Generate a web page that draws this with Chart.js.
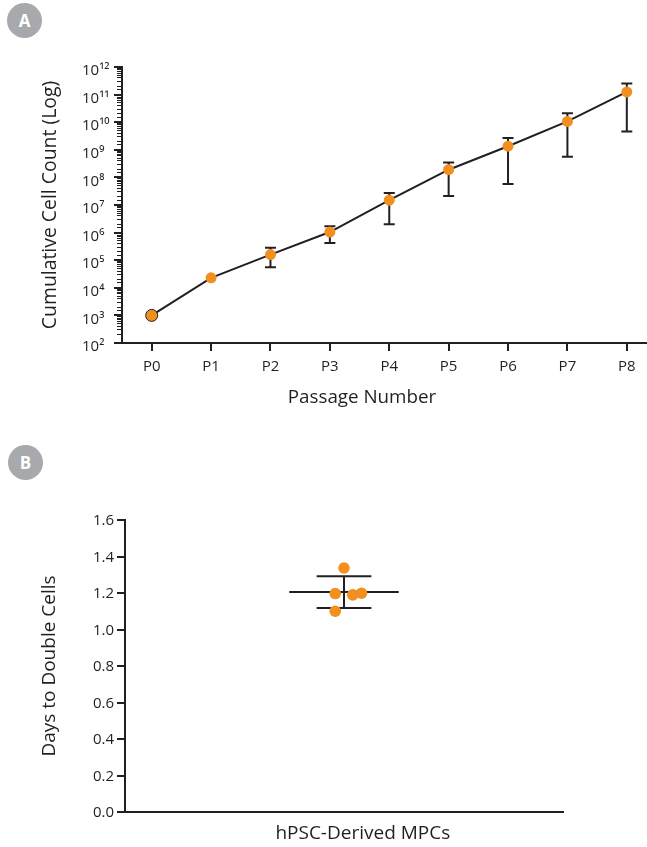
<!DOCTYPE html>
<html lang="en">
<head>
    <meta charset="UTF-8">
    <title>Cumulative cell count and doubling time</title>
    <script src="https://cdn.jsdelivr.net/npm/chart.js"></script>
    <style>
        html, body { margin: 0; padding: 0; background: #fff; overflow: hidden; width: 647px; height: 847px; }
        canvas { position: absolute; left: 0; }
        #chartA { top: 0; }
        #chartB { top: 480px; }
        .badge { position: absolute; width: 35px; height: 35px; border-radius: 50%; background: #a7a9ac; color: #fff;
                 font: bold 17px/35px "Open Sans", sans-serif; text-align: center; }
        .xtitle { position: absolute; left: 242px; top: 384px; width: 240px; text-align: center; color: #231f20;
                  font: 18.8px/24px "Open Sans", sans-serif; }
    </style>
</head>
<body>
    <div class="badge" style="left:7px;top:3px">A</div>
    <div class="badge" style="left:8px;top:445px">B</div>
    <canvas id="chartA" width="664" height="420" style="width:664px;height:420px"></canvas>
    <div class="xtitle">Passage Number</div>
    <canvas id="chartB" width="647" height="367" style="width:647px;height:367px"></canvas>

    <script>
        const passages = ['P0', 'P1', 'P2', 'P3', 'P4', 'P5', 'P6', 'P7', 'P8'];
        const cellCounts = [1e3, 2.3e4, 1.6e5, 1.05e6, 1.5e7, 1.9e8, 1.35e9, 1.07e10, 1.25e11];
        const errorHigh = [null, null, 2.8e5, 1.7e6, 2.7e7, 3.5e8, 2.7e9, 2.1e10, 2.5e11];
        const errorLow = [null, null, 5.6e4, 4.2e5, 2.0e6, 2.1e7, 5.8e7, 5.6e8, 4.6e9];
        const logTicks = [1e2, 1e3, 1e4, 1e5, 1e6, 1e7, 1e8, 1e9, 1e10, 1e11, 1e12];
        const logTickLabels = ['10²', '10³', '10⁴', '10⁵', '10⁶', '10⁷', '10⁸', '10⁹', '10¹⁰', '10¹¹', '10¹²'];

        const daysValues = [1.337, 1.197, 1.19, 1.199, 1.10];
        const daysJitter = [0.5, 0.48, 0.52, 0.54, 0.48];
        const daysMean = 1.205;
        const daysSdHigh = 1.292;
        const daysSdLow = 1.118;
        const groupLabel = 'hPSC-Derived MPCs';

        const ink = '#231f20';
        const orange = '#f18f1f';
        const fontFamily = '"Open Sans", sans-serif';

        // fixes the size of an axis so the plot area lands where it should
        const fixWidth = w => (scale => { scale.width = w; });
        const fixHeight = h => (scale => { scale.height = h; });

        // error bars are two point line datasets, the caps are 'line' point markers
        const errorBars = [];
        passages.forEach((p, i) => {
            if (errorHigh[i] === null) return;
            errorBars.push({
                data: [{ x: p, y: errorLow[i] }, { x: p, y: errorHigh[i] }],
                borderColor: ink,
                borderWidth: 2,
                pointStyle: 'line',
                pointRadius: 5.5,
                pointBorderColor: ink,
                pointBorderWidth: 2,
                order: 2
            });
        });

        new Chart(document.getElementById('chartA'), {
            type: 'line',
            data: {
                labels: passages,
                datasets: [{
                    data: cellCounts,
                    borderColor: ink,
                    borderWidth: 2,
                    tension: 0,
                    pointRadius: passages.map((p, i) => i === 0 ? 6 : 5.5),
                    pointBackgroundColor: orange,
                    pointBorderColor: passages.map((p, i) => i === 0 ? ink : orange),
                    pointBorderWidth: passages.map((p, i) => i === 0 ? 1 : 0),
                    order: 1
                }, ...errorBars]
            },
            options: {
                responsive: false,
                animation: false,
                layout: { padding: { left: 82, top: 67, right: 0, bottom: 0 } },
                plugins: { legend: { display: false }, tooltip: { enabled: false } },
                scales: {
                    x: {
                        type: 'category',
                        offset: true,
                        afterFit: fixHeight(77),
                        grid: { drawOnChartArea: false, tickLength: 8, color: ink, lineWidth: 2 },
                        border: { color: ink, width: 2 },
                        ticks: { color: ink, font: { family: fontFamily, size: 15 }, padding: 7, maxRotation: 0 }
                    },
                    y: {
                        type: 'logarithmic',
                        min: 1e2,
                        max: 1e12,
                        weight: 0,
                        afterFit: fixWidth(40),
                        afterBuildTicks: scale => { scale.ticks = logTicks.map(v => ({ value: v, major: true })); },
                        grid: { drawOnChartArea: false, tickLength: 8, color: ink, lineWidth: 2 },
                        border: { color: ink, width: 2 },
                        title: {
                            display: true,
                            text: 'Cumulative Cell Count (Log)',
                            color: ink,
                            font: { family: fontFamily, size: 19.4 },
                            padding: { top: -43, bottom: 0 }
                        },
                        ticks: {
                            color: ink,
                            font: { family: fontFamily, size: 15 },
                            crossAlign: 'far',
                            labelOffset: 4,
                            autoSkip: false,
                            callback: (v, i) => logTickLabels[i]
                        }
                    },
                    yMinor: {
                        type: 'logarithmic',
                        position: 'left',
                        min: 1e2,
                        max: 1e12,
                        weight: -1,
                        afterFit: fixWidth(0),
                        border: { display: false },
                        grid: { drawOnChartArea: false, tickLength: 5, color: ink, lineWidth: 1 },
                        ticks: { display: false, autoSkip: false }
                    }
                }
            }
        });

        const lineSet = (points, extra) => Object.assign({
            data: points,
            showLine: true,
            borderColor: ink,
            borderWidth: 2,
            pointRadius: 0,
            order: 2
        }, extra);

        new Chart(document.getElementById('chartB'), {
            type: 'scatter',
            data: {
                datasets: [{
                    data: daysValues.map((v, i) => ({ x: daysJitter[i], y: v })),
                    backgroundColor: orange,
                    pointRadius: 5.8,
                    pointBorderWidth: 0,
                    order: 1
                },
                lineSet([{ x: 0.375, y: daysMean }, { x: 0.625, y: daysMean }]),
                lineSet([{ x: 0.5, y: daysSdLow }, { x: 0.5, y: daysSdHigh }]),
                lineSet([{ x: 0.4375, y: daysSdHigh }, { x: 0.5625, y: daysSdHigh }]),
                lineSet([{ x: 0.4375, y: daysSdLow }, { x: 0.5625, y: daysSdLow }])]
            },
            options: {
                responsive: false,
                animation: false,
                layout: { padding: { left: 0, top: 40, right: 84, bottom: 0 } },
                plugins: { legend: { display: false }, tooltip: { enabled: false } },
                scales: {
                    x: {
                        type: 'linear',
                        min: 0,
                        max: 1,
                        afterFit: fixHeight(35),
                        afterBuildTicks: scale => { scale.ticks = [{ value: 0.543 }]; },
                        grid: { display: false },
                        border: { color: ink, width: 2 },
                        ticks: { color: ink, font: { family: fontFamily, size: 19 }, padding: 2.5, maxRotation: 0, callback: () => groupLabel }
                    },
                    y: {
                        min: 0,
                        max: 1.6,
                        afterFit: fixWidth(125),
                        grid: { drawOnChartArea: false, tickLength: 8, color: ink, lineWidth: 2 },
                        border: { color: ink, width: 2 },
                        title: {
                            display: true,
                            text: 'Days to Double Cells',
                            color: ink,
                            font: { family: fontFamily, size: 19 },
                            padding: { top: 38.5, bottom: 0 }
                        },
                        ticks: {
                            stepSize: 0.2,
                            color: ink,
                            font: { family: fontFamily, size: 15 },
                            labelOffset: 1,
                            callback: v => v.toFixed(1)
                        }
                    }
                }
            }
        });
    </script>
</body>
</html>
